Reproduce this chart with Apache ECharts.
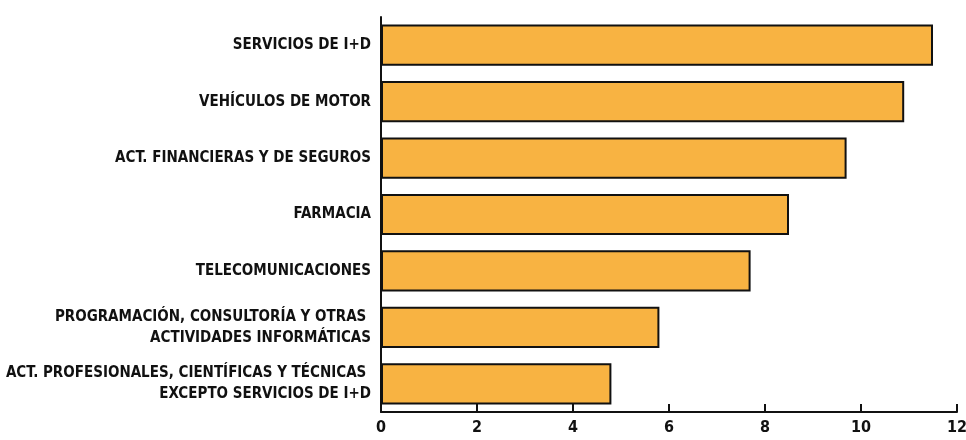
<!DOCTYPE html>
<html>
<head>
<meta charset="utf-8">
<script src="https://cdn.jsdelivr.net/npm/echarts@6/dist/echarts.min.js"></script>
<style>
html,body{margin:0;padding:0;background:#fff;}
#chart{width:966px;height:440px;}
</style>
</head>
<body>
<div id="chart"></div>
<script>
const categories = [
  "SERVICIOS DE I+D",
  "VEHÍCULOS DE MOTOR",
  "ACT. FINANCIERAS Y DE SEGUROS",
  "FARMACIA",
  "TELECOMUNICACIONES",
  "PROGRAMACIÓN, CONSULTORÍA Y OTRAS \nACTIVIDADES INFORMÁTICAS",
  "ACT. PROFESIONALES, CIENTÍFICAS Y TÉCNICAS \nEXCEPTO SERVICIOS DE I+D"
];
const values = [11.5, 10.9, 9.7, 8.5, 7.7, 5.8, 4.8];
const xTicks = [0, 2, 4, 6, 8, 10, 12];

const FONT = '"Liberation Sans Narrow", "DejaVu Sans Condensed", sans-serif';
const chart = echarts.init(document.getElementById('chart'), null, {renderer: 'canvas'});
chart.setOption({
  animation: false,
  grid: {left: 381, right: 9, top: 17, bottom: 28, containLabel: false, outerBoundsMode: 'none'},
  xAxis: {
    type: 'value',
    min: xTicks[0],
    max: xTicks[xTicks.length - 1],
    interval: xTicks[1] - xTicks[0],
    axisLine: {show: true, lineStyle: {color: '#111', width: 2}},
    axisTick: {show: true, inside: true, length: 8, lineStyle: {color: '#111', width: 2}},
    splitLine: {show: false},
    axisLabel: {color: '#111', fontFamily: FONT, fontWeight: 'bold', fontSize: 16, margin: 8}
  },
  yAxis: {
    type: 'category',
    inverse: true,
    data: categories,
    axisLine: {show: true, lineStyle: {color: '#111', width: 2}},
    axisTick: {show: false},
    axisLabel: {color: '#111', fontFamily: FONT, fontWeight: 'bold', fontSize: 15, margin: 10, lineHeight: 21, align: 'right'}
  },
  series: [{
    type: 'bar',
    data: values,
    barCategoryGap: '27%',
    itemStyle: {color: '#F8B342', borderColor: '#111', borderWidth: 2}
  }]
});
</script>
</body>
</html>
